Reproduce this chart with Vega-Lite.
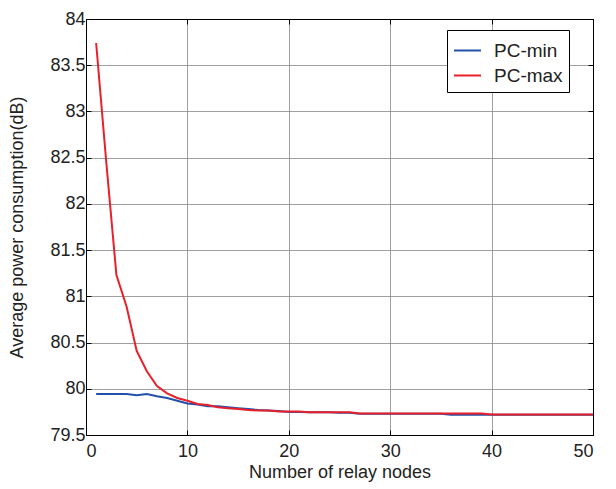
{
  "$schema": "https://vega.github.io/schema/vega-lite/v6.json",
  "width": 507,
  "height": 416,
  "autosize": "none",
  "padding": {"left": 86, "top": 19, "right": 23, "bottom": 54},
  "background": "white",
  "config": {
    "font": "Liberation Sans",
    "view": {"stroke": "black", "strokeWidth": 1},
    "axis": {
      "labelFont": "Liberation Sans",
      "titleFont": "Liberation Sans",
      "labelFontSize": 18,
      "titleFontSize": 18,
      "titleFontWeight": "normal",
      "labelColor": "#222",
      "titleColor": "#222",
      "domainColor": "black",
      "tickColor": "black",
      "tickSize": -5,
      "gridColor": "#888",
      "gridWidth": 1,
      "gridOpacity": 0.8
    }
  },
  "data": {
    "values": [
      {"n":1,"s":"PC-min","v":79.943},{"n":2,"s":"PC-min","v":79.943},{"n":3,"s":"PC-min","v":79.943},{"n":4,"s":"PC-min","v":79.943},{"n":5,"s":"PC-min","v":79.93},
      {"n":6,"s":"PC-min","v":79.943},{"n":7,"s":"PC-min","v":79.92},{"n":8,"s":"PC-min","v":79.9},{"n":9,"s":"PC-min","v":79.87},{"n":10,"s":"PC-min","v":79.84},
      {"n":11,"s":"PC-min","v":79.83},{"n":12,"s":"PC-min","v":79.81},{"n":13,"s":"PC-min","v":79.81},{"n":14,"s":"PC-min","v":79.8},{"n":15,"s":"PC-min","v":79.79},
      {"n":16,"s":"PC-min","v":79.78},{"n":17,"s":"PC-min","v":79.77},{"n":18,"s":"PC-min","v":79.765},{"n":19,"s":"PC-min","v":79.76},{"n":20,"s":"PC-min","v":79.75},
      {"n":21,"s":"PC-min","v":79.75},{"n":22,"s":"PC-min","v":79.745},{"n":23,"s":"PC-min","v":79.745},{"n":24,"s":"PC-min","v":79.745},{"n":25,"s":"PC-min","v":79.74},
      {"n":26,"s":"PC-min","v":79.74},{"n":27,"s":"PC-min","v":79.73},{"n":28,"s":"PC-min","v":79.73},{"n":29,"s":"PC-min","v":79.73},{"n":30,"s":"PC-min","v":79.73},
      {"n":31,"s":"PC-min","v":79.73},{"n":32,"s":"PC-min","v":79.73},{"n":33,"s":"PC-min","v":79.73},{"n":34,"s":"PC-min","v":79.73},{"n":35,"s":"PC-min","v":79.73},
      {"n":36,"s":"PC-min","v":79.72},{"n":37,"s":"PC-min","v":79.72},{"n":38,"s":"PC-min","v":79.72},{"n":39,"s":"PC-min","v":79.72},{"n":40,"s":"PC-min","v":79.72},
      {"n":41,"s":"PC-min","v":79.72},{"n":42,"s":"PC-min","v":79.72},{"n":43,"s":"PC-min","v":79.72},{"n":44,"s":"PC-min","v":79.72},{"n":45,"s":"PC-min","v":79.72},
      {"n":46,"s":"PC-min","v":79.72},{"n":47,"s":"PC-min","v":79.72},{"n":48,"s":"PC-min","v":79.72},{"n":49,"s":"PC-min","v":79.72},{"n":50,"s":"PC-min","v":79.72},
      {"n":1,"s":"PC-max","v":83.74},{"n":2,"s":"PC-max","v":82.45},{"n":3,"s":"PC-max","v":81.23},{"n":4,"s":"PC-max","v":80.89},{"n":5,"s":"PC-max","v":80.41},
      {"n":6,"s":"PC-max","v":80.19},{"n":7,"s":"PC-max","v":80.03},{"n":8,"s":"PC-max","v":79.95},{"n":9,"s":"PC-max","v":79.9},{"n":10,"s":"PC-max","v":79.87},
      {"n":11,"s":"PC-max","v":79.835},{"n":12,"s":"PC-max","v":79.825},{"n":13,"s":"PC-max","v":79.8},{"n":14,"s":"PC-max","v":79.79},{"n":15,"s":"PC-max","v":79.78},
      {"n":16,"s":"PC-max","v":79.77},{"n":17,"s":"PC-max","v":79.765},{"n":18,"s":"PC-max","v":79.765},{"n":19,"s":"PC-max","v":79.755},{"n":20,"s":"PC-max","v":79.755},
      {"n":21,"s":"PC-max","v":79.755},{"n":22,"s":"PC-max","v":79.745},{"n":23,"s":"PC-max","v":79.745},{"n":24,"s":"PC-max","v":79.745},{"n":25,"s":"PC-max","v":79.745},
      {"n":26,"s":"PC-max","v":79.745},{"n":27,"s":"PC-max","v":79.733},{"n":28,"s":"PC-max","v":79.733},{"n":29,"s":"PC-max","v":79.733},{"n":30,"s":"PC-max","v":79.733},
      {"n":31,"s":"PC-max","v":79.733},{"n":32,"s":"PC-max","v":79.733},{"n":33,"s":"PC-max","v":79.733},{"n":34,"s":"PC-max","v":79.733},{"n":35,"s":"PC-max","v":79.733},
      {"n":36,"s":"PC-max","v":79.733},{"n":37,"s":"PC-max","v":79.733},{"n":38,"s":"PC-max","v":79.733},{"n":39,"s":"PC-max","v":79.733},{"n":40,"s":"PC-max","v":79.722},
      {"n":41,"s":"PC-max","v":79.722},{"n":42,"s":"PC-max","v":79.722},{"n":43,"s":"PC-max","v":79.722},{"n":44,"s":"PC-max","v":79.722},{"n":45,"s":"PC-max","v":79.722},
      {"n":46,"s":"PC-max","v":79.722},{"n":47,"s":"PC-max","v":79.722},{"n":48,"s":"PC-max","v":79.722},{"n":49,"s":"PC-max","v":79.722},{"n":50,"s":"PC-max","v":79.722}
    ]
  },
  "layer": [
    {
      "mark": {"type": "line", "strokeWidth": 2, "clip": true},
      "encoding": {
        "x": {
          "field": "n", "type": "quantitative",
          "scale": {"domain": [0, 50], "nice": false, "zero": false},
          "axis": {"values": [0,10,20,30,40,50], "title": "Number of relay nodes", "labelPadding": 12, "titlePadding": 3, "grid": true}
        },
        "y": {
          "field": "v", "type": "quantitative",
          "scale": {"domain": [79.5, 84], "nice": false, "zero": false},
          "axis": {"values": [79.5,80,80.5,81,81.5,82,82.5,83,83.5,84], "format": "~g", "title": "Average power consumption(dB)", "labelPadding": 6, "titlePadding": 23, "grid": true}
        },
        "color": {
          "field": "s", "type": "nominal",
          "scale": {"domain": ["PC-min", "PC-max"], "range": ["#2350a8", "#e8202a"]},
          "legend": {
            "title": null, "orient": "none", "legendX": 361, "legendY": 11,
            "labelFontSize": 19, "labelFont": "Liberation Sans", "labelColor": "#222",
            "symbolType": "stroke", "symbolSize": 729, "symbolStrokeWidth": 2,
            "labelOffset": 12,
            "strokeColor": "black", "fillColor": "white", "padding": 6, "rowPadding": 0,
            "labelLimit": 200
          }
        }
      }
    },
    {
      "mark": {"type": "line", "opacity": 0},
      "encoding": {
        "x": {
          "field": "n", "type": "quantitative",
          "scale": {"domain": [0, 50], "nice": false, "zero": false},
          "axis": {"orient": "top", "values": [0,10,20,30,40,50], "labels": false, "title": null, "grid": false}
        },
        "y": {
          "field": "v", "type": "quantitative",
          "scale": {"domain": [79.5, 84], "nice": false, "zero": false},
          "axis": {"orient": "right", "values": [79.5,80,80.5,81,81.5,82,82.5,83,83.5,84], "labels": false, "title": null, "grid": false}
        },
        "detail": {"field": "s"}
      }
    }
  ],
  "resolve": {"axis": {"x": "independent", "y": "independent"}}
}
